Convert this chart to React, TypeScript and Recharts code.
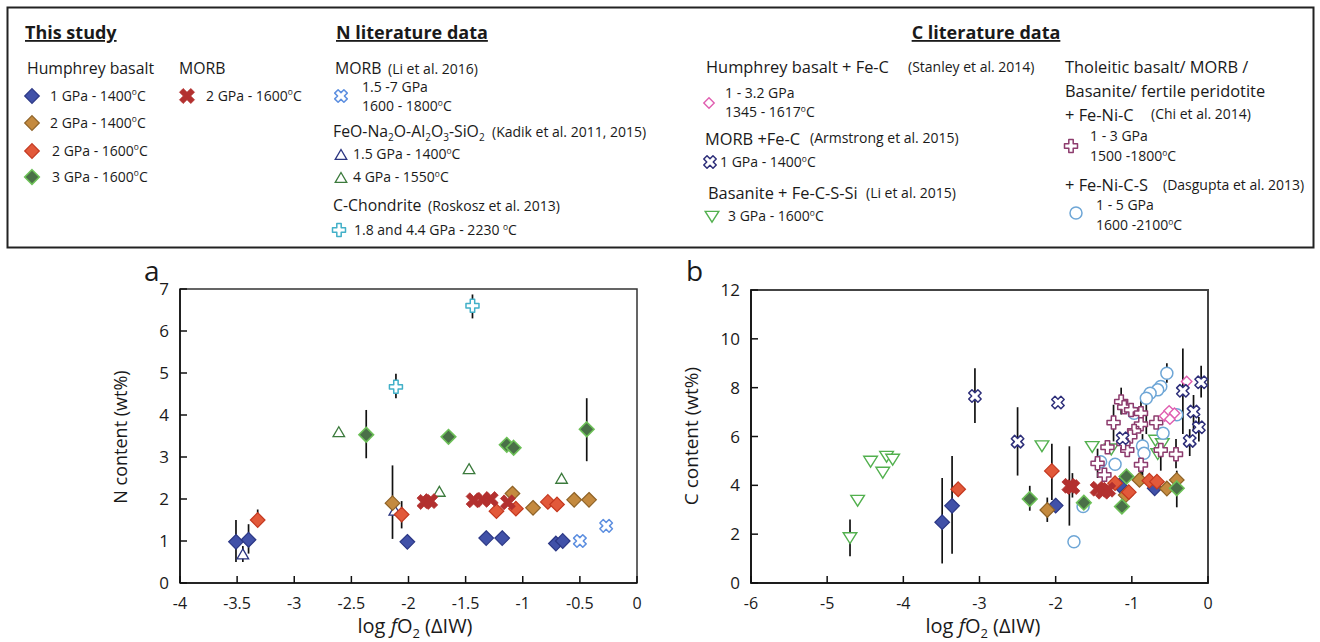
import React from "react";
import { ScatterChart, Scatter, XAxis, YAxis, ErrorBar, ReferenceArea } from "recharts";

// each point: [log fO2, content, errLow?, errHigh?]
type Pt = number[];

// ---- panel a: N content (wt%) ----
const nHb1Gpa1400: Pt[] = [[-3.51, 0.98, 0.5, 1.5], [-3.4, 1.03, 0.7, 1.4], [-2.01, 0.98], [-1.32, 1.07], [-1.18, 1.07], [-0.71, 0.94], [-0.65, 1.0]];
const nHb2Gpa1400: Pt[] = [[-2.14, 1.9, 1.05, 2.8], [-1.09, 2.13], [-0.91, 1.79], [-0.55, 1.98], [-0.42, 1.98]];
const nHb2Gpa1600: Pt[] = [[-3.32, 1.5, 1.5, 1.75], [-2.06, 1.63, 1.3, 1.95], [-1.23, 1.71], [-1.06, 1.77], [-0.78, 1.93], [-0.7, 1.87]];
const nHb3Gpa1600: Pt[] = [[-2.37, 3.53, 2.97, 4.12], [-1.65, 3.48, 3.33, 3.63], [-1.14, 3.29], [-1.08, 3.22], [-0.44, 3.66, 2.9, 4.4]];
const nMorb: Pt[] = [[-1.86, 1.93], [-1.81, 1.95], [-1.43, 1.97], [-1.35, 1.98], [-1.28, 2.0], [-1.13, 1.92]];
const nLi2016: Pt[] = [[-0.5, 1.0], [-0.27, 1.36]];
const nKadik15: Pt[] = [[-3.45, 0.68, 0.5, 0.88], [-2.12, 1.72]];
const nKadik4: Pt[] = [[-2.61, 3.59], [-1.47, 2.71], [-1.73, 2.17], [-0.66, 2.48]];
const nRoskosz: Pt[] = [[-2.11, 4.67, 4.4, 4.98], [-1.44, 6.6, 6.3, 6.87]];

// ---- panel b: C content (wt%) ----
const cHb1Gpa1400: Pt[] = [[-3.49, 2.49, 0.8, 4.3], [-3.36, 3.16, 1.2, 5.2], [-2.0, 3.17], [-1.16, 4.0], [-0.7, 3.88]];
const cHb2Gpa1400: Pt[] = [[-2.11, 2.99, 2.5, 3.5], [-1.08, 3.6], [-0.9, 4.22], [-0.54, 3.87], [-0.41, 4.22]];
const cHb2Gpa1600: Pt[] = [[-3.28, 3.84], [-2.05, 4.59, 3.4, 5.7], [-1.22, 4.09], [-1.04, 3.72], [-0.77, 4.19], [-0.67, 4.15]];
const cHb3Gpa1600: Pt[] = [[-2.34, 3.44, 2.96, 3.98], [-1.63, 3.29], [-1.13, 3.13], [-1.07, 4.36], [-0.41, 3.88, 3.1, 4.6]];
const cMorb: Pt[] = [[-1.82, 3.98, 2.35, 5.6], [-1.78, 3.93, 3.5, 4.5], [-1.45, 3.86], [-1.38, 3.74], [-1.31, 3.82]];
const cStanley: Pt[] = [[-0.28, 8.25], [-0.57, 6.84], [-0.51, 7.05], [-0.44, 6.95], [-0.5, 6.71]];
const cArmstrong: Pt[] = [[-3.06, 7.66, 6.55, 8.8], [-2.5, 5.79, 4.4, 7.2], [-1.97, 7.39], [-1.12, 5.93], [-0.33, 7.87, 6.1, 9.6], [-0.09, 8.22, 7.6, 8.9], [-0.19, 7.02, 6.2, 7.7], [-0.12, 6.38, 5.8, 6.8], [-0.24, 5.82, 5.2, 6.3]];
const cLi2015: Pt[] = [[-4.7, 1.87, 1.1, 2.6], [-4.6, 3.4], [-4.43, 5.0], [-4.27, 4.55], [-4.22, 5.2], [-4.14, 5.08], [-2.18, 5.63], [-1.52, 5.6], [-1.27, 5.5], [-0.69, 5.86], [-0.66, 5.31], [-0.6, 5.72]];
const cChi: Pt[] = [[-1.14, 7.43, 6.9, 8.0], [-1.1, 7.2], [-1.01, 7.09], [-0.88, 6.95, 6.5, 7.6], [-1.24, 6.57, 5.8, 7.3], [-0.88, 6.5], [-0.68, 6.57], [-0.97, 6.23], [-1.02, 6.0], [-1.32, 5.56], [-1.06, 5.45], [-1.45, 4.9, 4.3, 5.5], [-0.88, 4.84, 4.2, 5.4], [-0.42, 5.27, 4.7, 5.9], [-0.62, 5.45, 4.6, 5.9], [-1.36, 4.43], [-1.11, 5.72]];
const cDasgupta: Pt[] = [[-0.54, 8.59, 8.2, 9.0], [-0.62, 8.05], [-0.66, 7.91], [-0.76, 7.77], [-0.81, 7.57, 6.1, 7.8], [-0.97, 6.95], [-0.41, 6.89], [-0.59, 6.13], [-0.86, 5.61, 4.4, 6.1], [-0.84, 5.31], [-1.22, 4.86], [-1.41, 4.97], [-1.64, 3.13], [-1.76, 1.69]];

const xTicksA = [-4, -3.5, -3, -2.5, -2, -1.5, -1, -0.5, 0];
const yTicksA = [0, 1, 2, 3, 4, 5, 6, 7];
const xTicksB = [-6, -5, -4, -3, -2, -1, 0];
const yTicksB = [0, 2, 4, 6, 8, 10, 12];

const FONT = "'Open Sans', 'Noto Sans', sans-serif";

const toRows = (pts: Pt[]) =>
  pts.map(([x, y, lo, hi]) => ({ x, y, err: lo === undefined ? undefined : [y - lo, hi - y] }));

// ---------- marker shapes ----------
function plusPoints(cx: number, cy: number, L: number, w: number, rot: number) {
  const base = [[-w, -L], [w, -L], [w, -w], [L, -w], [L, w], [w, w], [w, L], [-w, L], [-w, w], [-L, w], [-L, -w], [-w, -w]];
  const c = Math.cos(rot);
  const s = Math.sin(rot);
  return base.map(([x, y]) => `${cx + x * c - y * s},${cy + x * s + y * c}`).join(" ");
}

const diamond = (fill: string, stroke: string, r: number, sw = 1.2) => (p: any) => (
  <polygon
    points={`${p.cx},${p.cy - r} ${p.cx + r},${p.cy} ${p.cx},${p.cy + r} ${p.cx - r},${p.cy}`}
    fill={fill}
    stroke={stroke}
    strokeWidth={sw}
  />
);
const boldX = (color: string, L: number) => (p: any) => (
  <polygon points={plusPoints(p.cx, p.cy, L, 2.6, Math.PI / 4)} fill={color} stroke={color} strokeWidth={0.8} />
);
const openCross = (color: string, L: number, w: number, rot: number) => (p: any) => (
  <polygon points={plusPoints(p.cx, p.cy, L, w, rot)} fill="#fff" stroke={color} strokeWidth={1.5} strokeLinejoin="round" />
);
const triUp = (color: string, s: number) => (p: any) => (
  <polygon
    points={`${p.cx},${p.cy - s} ${p.cx + s * 1.05},${p.cy + s * 0.8} ${p.cx - s * 1.05},${p.cy + s * 0.8}`}
    fill="#fff"
    stroke={color}
    strokeWidth={1.3}
  />
);
const triDown = (color: string, s: number) => (p: any) => (
  <polygon
    points={`${p.cx - s * 1.1},${p.cy - s * 0.75} ${p.cx + s * 1.1},${p.cy - s * 0.75} ${p.cx},${p.cy + s}`}
    fill="#fff"
    stroke={color}
    strokeWidth={1.4}
  />
);
const ring = (color: string, r: number) => (p: any) => (
  <circle cx={p.cx} cy={p.cy} r={r} fill="#fff" stroke={color} strokeWidth={1.5} />
);

const shp = {
  hb1: diamond("#4151a8", "#2b3785", 7.3),
  hb2: diamond("#c48a3f", "#8e6226", 7.3),
  hb3: diamond("#e2593a", "#c4381f", 7.3),
  hb4: diamond("#4a7048", "#6cc057", 7.3, 1.6),
  morb: boldX("#b3302f", 8),
  li2016: openCross("#5d8fe0", 6.5, 2.4, Math.PI / 4),
  kadik15: triUp("#2b3580", 5.5),
  kadik4: triUp("#3b7a3c", 5.5),
  roskosz: openCross("#42b0c8", 6.5, 2.2, 0),
  stanley: diamond("#fff", "#e05eb0", 5.2, 1.4),
  armstrong: openCross("#2e2f7a", 6.5, 2.3, Math.PI / 4),
  li2015: triDown("#52b04e", 6.2),
  chi: openCross("#8d3c6e", 6.5, 2.2, 0),
  dasgupta: ring("#6ea6d6", 6),
};

// ---------- helpers for text ----------
const Deg = ({ s }: { s: number }) => (
  <>
    <tspan fontSize={s * 0.6} dy={-s * 0.38}>o</tspan>
    <tspan dy={s * 0.38}>C</tspan>
  </>
);

function Txt({ x, y, s, children, ...rest }: any) {
  return (
    <text x={x} y={y} fontSize={s} fontFamily={FONT} fill="#1a1a1a" {...rest}>
      {children}
    </text>
  );
}

// inward tick marks with the labels outside the frame
const TICK_LEN = 7;
const BottomTick = (p: any) => (
  <g>
    <line x1={p.x} x2={p.x} y1={p.y} y2={p.y - TICK_LEN} stroke="#111" strokeWidth={1.5} />
    <text x={p.x} y={p.y + 26} textAnchor="middle" fontSize={16} fontFamily={FONT} fill="#1a1a1a">
      {p.payload.value}
    </text>
  </g>
);
const LeftTick = (p: any) => (
  <g>
    <line x1={p.x} x2={p.x + TICK_LEN} y1={p.y} y2={p.y} stroke="#111" strokeWidth={1.5} />
    <text x={p.x - 11} y={p.y + 6} textAnchor="end" fontSize={17} fontFamily={FONT} fill="#1a1a1a">
      {p.payload.value}
    </text>
  </g>
);

const errBar = <ErrorBar dataKey="err" direction="y" width={0} stroke="#111" strokeWidth={1.7} />;

function series(pts: Pt[], shape: any, key: string) {
  return (
    <Scatter key={key} data={toRows(pts)} shape={shape} isAnimationActive={false}>
      {errBar}
    </Scatter>
  );
}

const axisProps = {
  stroke: "#111",
  strokeWidth: 1.6,
  tickLine: false,
  tickSize: 0,
  tickMargin: 0,
  interval: 0 as const,
  type: "number" as const,
};

function PanelA() {
  return (
    <div style={{ position: "absolute", left: 0, top: 0 }}>
      <ScatterChart width={660} height={642} margin={{ top: 289, right: 23, bottom: 19, left: 120 }}>
        <XAxis {...axisProps} dataKey="x" domain={[-4, 0]} ticks={xTicksA} height={40} tick={BottomTick} />
        <YAxis {...axisProps} dataKey="y" domain={[0, 7]} ticks={yTicksA} width={60} tick={LeftTick} />
        <ReferenceArea x1={-4} x2={0} y1={0} y2={7} fill="none" stroke="#333" strokeWidth={1.5} />
        {series(nKadik15, shp.kadik15, "k15")}
        {series(nKadik4, shp.kadik4, "k4")}
        {series(nRoskosz, shp.roskosz, "ros")}
        {series(nLi2016, shp.li2016, "li16")}
        {series(nHb1Gpa1400, shp.hb1, "h1")}
        {series(nHb2Gpa1400, shp.hb2, "h2")}
        {series(nHb2Gpa1600, shp.hb3, "h3")}
        {series(nHb3Gpa1600, shp.hb4, "h4")}
        {series(nMorb, shp.morb, "morb")}
      </ScatterChart>
    </div>
  );
}

function PanelB() {
  return (
    <div style={{ position: "absolute", left: 660, top: 0 }}>
      <ScatterChart width={660} height={642} margin={{ top: 290, right: 112, bottom: 19, left: 31 }}>
        <XAxis {...axisProps} dataKey="x" domain={[-6, 0]} ticks={xTicksB} height={40} tick={BottomTick} />
        <YAxis {...axisProps} dataKey="y" domain={[0, 12]} ticks={yTicksB} width={60} tick={LeftTick} />
        <ReferenceArea x1={-6} x2={0} y1={0} y2={12} fill="none" stroke="#444" strokeWidth={2} />
        {series(cLi2015, shp.li2015, "li15")}
        {series(cDasgupta, shp.dasgupta, "das")}
        {series(cChi, shp.chi, "chi")}
        {series(cStanley, shp.stanley, "stan")}
        {series(cArmstrong, shp.armstrong, "arm")}
        {series(cHb1Gpa1400, shp.hb1, "h1")}
        {series(cHb2Gpa1400, shp.hb2, "h2")}
        {series(cHb2Gpa1600, shp.hb3, "h3")}
        {series(cHb3Gpa1600, shp.hb4, "h4")}
        {series(cMorb, shp.morb, "morb")}
      </ScatterChart>
    </div>
  );
}

// legend sizes: item lines, group headings, right-hand headings, citations
const S_ITEM = 14;
const S_HEAD = 15.8;
const S_CHEAD = 16.4;
const S_CITE = 14;

function Legend() {
  const m = (f: any, cx: number, cy: number) => f({ cx, cy });
  return (
    <svg width={1320} height={642} style={{ position: "absolute", left: 0, top: 0, pointerEvents: "none" }}>
      <rect x={7.5} y={7.5} width={1306} height={240} fill="none" stroke="#222" strokeWidth={2} />

      {/* this study */}
      <Txt x={25} y={39} s={18} fontWeight="bold" textDecoration="underline">This study</Txt>
      <Txt x={27} y={74} s={S_HEAD}>Humphrey basalt</Txt>
      <Txt x={179} y={74} s={S_HEAD}>MORB</Txt>
      {m(shp.hb1, 32, 96)}
      <Txt x={50} y={100.5} s={S_ITEM}>1 GPa - 1400<Deg s={S_ITEM} /></Txt>
      {m(shp.hb2, 32, 123)}
      <Txt x={50} y={127.5} s={S_ITEM}>2 GPa - 1400<Deg s={S_ITEM} /></Txt>
      {m(shp.hb3, 32, 151)}
      <Txt x={52} y={155.5} s={S_ITEM}>2 GPa - 1600<Deg s={S_ITEM} /></Txt>
      {m(shp.hb4, 32, 177)}
      <Txt x={52} y={181.5} s={S_ITEM}>3 GPa - 1600<Deg s={S_ITEM} /></Txt>
      {m(shp.morb, 187, 96)}
      <Txt x={206} y={100.5} s={S_ITEM}>2 GPa - 1600<Deg s={S_ITEM} /></Txt>

      {/* N literature */}
      <Txt x={336} y={39} s={18} fontWeight="bold" textDecoration="underline">N literature data</Txt>
      <Txt x={335} y={74} s={S_HEAD}>MORB</Txt>
      <Txt x={388} y={74} s={S_CITE}>(Li et al. 2016)</Txt>
      {m(shp.li2016, 341, 96)}
      <Txt x={362} y={92} s={S_ITEM}>1.5 -7 GPa</Txt>
      <Txt x={362} y={111} s={S_ITEM}>1600 - 1800<Deg s={S_ITEM} /></Txt>
      <Txt x={333} y={137} s={S_HEAD}>
        FeO-Na<tspan fontSize={10} dy={4}>2</tspan>
        <tspan dy={-4}>O-Al</tspan>
        <tspan fontSize={10} dy={4}>2</tspan>
        <tspan dy={-4}>O</tspan>
        <tspan fontSize={10} dy={4}>3</tspan>
        <tspan dy={-4}>-SiO</tspan>
        <tspan fontSize={10} dy={4}>2</tspan>
      </Txt>
      <Txt x={492} y={137} s={S_CITE}>(Kadik et al. 2011,  2015)</Txt>
      {m(shp.kadik15, 341, 155)}
      <Txt x={353} y={159} s={S_ITEM}>1.5 GPa - 1400<Deg s={S_ITEM} /></Txt>
      {m(shp.kadik4, 341, 178)}
      <Txt x={353} y={182} s={S_ITEM}>4 GPa - 1550<Deg s={S_ITEM} /></Txt>
      <Txt x={333} y={211} s={S_HEAD}>C-Chondrite</Txt>
      <Txt x={428} y={211} s={S_CITE}>(Roskosz et al. 2013)</Txt>
      {m(shp.roskosz, 339, 230)}
      <Txt x={354} y={235} s={S_ITEM}>1.8 and 4.4 GPa  - 2230 <Deg s={S_ITEM} /></Txt>

      {/* C literature */}
      <Txt x={986} y={39} s={18} fontWeight="bold" textDecoration="underline" textAnchor="middle">C literature data</Txt>
      <Txt x={706} y={73} s={S_CHEAD}>Humphrey basalt + Fe-C</Txt>
      <Txt x={908} y={72} s={S_CITE}>(Stanley et al. 2014)</Txt>
      {m(shp.stanley, 709, 103)}
      <Txt x={725} y={98} s={S_ITEM}>1 - 3.2 GPa</Txt>
      <Txt x={725} y={117} s={S_ITEM}>1345 - 1617<Deg s={S_ITEM} /></Txt>
      <Txt x={705} y={145} s={S_CHEAD}>MORB +Fe-C</Txt>
      <Txt x={810} y={143} s={S_CITE}>(Armstrong et al. 2015)</Txt>
      {m(shp.armstrong, 710, 162)}
      <Txt x={720} y={167} s={S_ITEM}>1 GPa - 1400<Deg s={S_ITEM} /></Txt>
      <Txt x={708} y={199} s={S_CHEAD}>Basanite + Fe-C-S-Si</Txt>
      <Txt x={866} y={198} s={S_CITE}>(Li et al. 2015)</Txt>
      {m(shp.li2015, 712, 216)}
      <Txt x={728} y={221} s={S_ITEM}>3 GPa - 1600<Deg s={S_ITEM} /></Txt>

      <Txt x={1065} y={73} s={S_CHEAD}>Tholeitic basalt/ MORB /</Txt>
      <Txt x={1065} y={97} s={S_CHEAD}>Basanite/ fertile peridotite</Txt>
      <Txt x={1065} y={121} s={S_CHEAD}>+ Fe-Ni-C</Txt>
      <Txt x={1151} y={119} s={S_CITE}>(Chi et al. 2014)</Txt>
      {m(shp.chi, 1071, 146)}
      <Txt x={1090} y={141} s={S_ITEM}>1 -  3 GPa</Txt>
      <Txt x={1090} y={161} s={S_ITEM}>1500 -1800<Deg s={S_ITEM} /></Txt>
      <Txt x={1065} y={191} s={S_CHEAD}>+ Fe-Ni-C-S</Txt>
      <Txt x={1163} y={190} s={S_CITE}>(Dasgupta et al. 2013)</Txt>
      {m(shp.dasgupta, 1076, 213)}
      <Txt x={1096} y={210} s={S_ITEM}>1 -  5 GPa</Txt>
      <Txt x={1096} y={230} s={S_ITEM}>1600 -2100<Deg s={S_ITEM} /></Txt>

      {/* panel letters and axis titles */}
      <Txt x={144} y={281} s={28}>a</Txt>
      <Txt x={686} y={281} s={28}>b</Txt>
      <Txt x={127} y={437} s={18} textAnchor="middle" transform="rotate(-90 127 437)">N content (wt%)</Txt>
      <Txt x={698} y={436} s={19} textAnchor="middle" transform="rotate(-90 698 436)">C content (wt%)</Txt>
      <Txt x={415} y={633} s={20} textAnchor="middle">
        log <tspan fontStyle="italic">f</tspan>O<tspan fontSize={13} dy={5}>2</tspan>
        <tspan dy={-5}> (ΔIW)</tspan>
      </Txt>
      <Txt x={983} y={633} s={20} textAnchor="middle">
        log <tspan fontStyle="italic">f</tspan>O<tspan fontSize={13} dy={5}>2</tspan>
        <tspan dy={-5}> (ΔIW)</tspan>
      </Txt>
    </svg>
  );
}

export default function App() {
  return (
    <div style={{ position: "absolute", left: 0, top: 0, width: 1320, height: 642, background: "#fff" }}>
      <PanelA />
      <PanelB />
      <Legend />
    </div>
  );
}
